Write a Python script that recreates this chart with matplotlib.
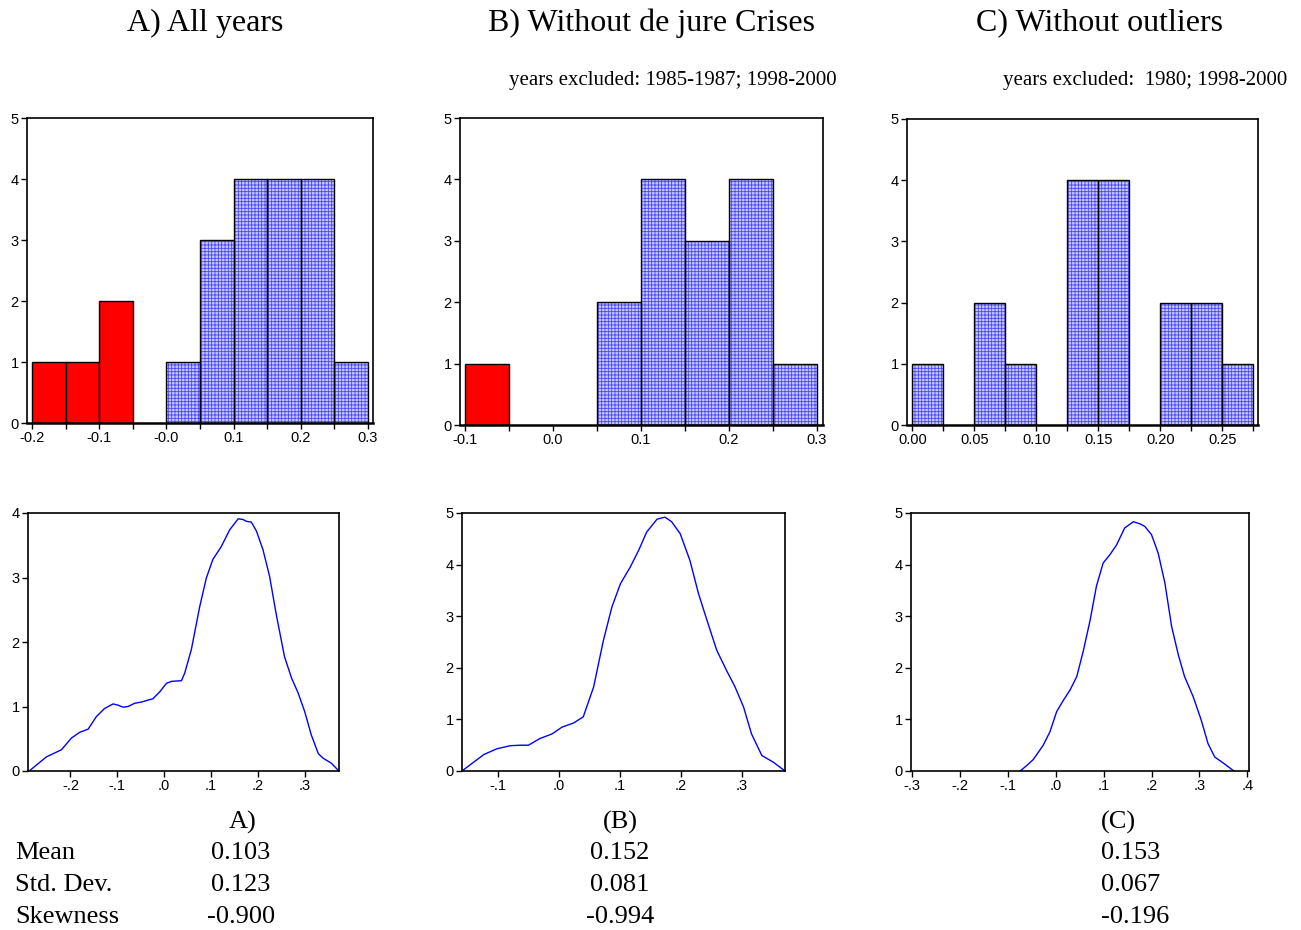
import numpy as np
import matplotlib
matplotlib.use('Agg')
import matplotlib.pyplot as plt
from matplotlib.ticker import FixedLocator

plt.rcParams['hatch.linewidth'] = 0.6
plt.rcParams['font.family'] = ['Liberation Sans', 'DejaVu Sans']

# ---------------- data ----------------
titles = ["A) All years", "B) Without de jure Crises", "C) Without outliers"]
subtitles = ["", "years excluded: 1985-1987; 1998-2000", "years excluded:  1980; 1998-2000"]

# histograms (bin left edges, width, counts, colour flag)
left_A = [-0.20, -0.15, -0.10, -0.05, 0.00, 0.05, 0.10, 0.15, 0.20, 0.25]
counts_A = [1, 1, 2, 0, 1, 3, 4, 4, 4, 1]
red_A = [1, 1, 1, 0, 0, 0, 0, 0, 0, 0]
width_A = 0.05

left_B = [-0.10, -0.05, 0.00, 0.05, 0.10, 0.15, 0.20, 0.25]
counts_B = [1, 0, 0, 2, 4, 3, 4, 1]
red_B = [1, 0, 0, 0, 0, 0, 0, 0]
width_B = 0.05

left_C = [0.000, 0.025, 0.050, 0.075, 0.100, 0.125, 0.150, 0.175, 0.200, 0.225, 0.250]
counts_C = [1, 0, 2, 1, 0, 4, 4, 0, 2, 2, 1]
red_C = [0] * 11
width_C = 0.025

# kernel density curves
kde_A_x = [-0.288, -0.251, -0.219, -0.198, -0.180, -0.162, -0.145, -0.127, -0.109, -0.098,
           -0.088, -0.077, -0.063, -0.048, -0.034, -0.024, -0.009, 0.005, 0.016, 0.037,
           0.044, 0.058, 0.076, 0.090, 0.104, 0.122, 0.140, 0.158, 0.168, 0.176,
           0.186, 0.197, 0.211, 0.225, 0.240, 0.257, 0.272, 0.286, 0.300, 0.314,
           0.329, 0.339, 0.357, 0.373]
kde_A_y = [0.00, 0.22, 0.33, 0.51, 0.60, 0.65, 0.84, 0.97, 1.04, 1.02,
           0.99, 1.00, 1.05, 1.07, 1.10, 1.12, 1.23, 1.36, 1.39, 1.40,
           1.52, 1.88, 2.55, 2.99, 3.28, 3.48, 3.74, 3.91, 3.90, 3.87,
           3.86, 3.72, 3.43, 3.02, 2.40, 1.77, 1.44, 1.21, 0.92, 0.56,
           0.27, 0.20, 0.12, 0.00]

kde_B_x = [-0.159, -0.140, -0.123, -0.102, -0.080, -0.063, -0.050, -0.031, -0.011, 0.005,
           0.024, 0.040, 0.057, 0.073, 0.087, 0.101, 0.117, 0.131, 0.144, 0.161,
           0.174, 0.185, 0.199, 0.215, 0.229, 0.243, 0.259, 0.275, 0.289, 0.303,
           0.316, 0.333, 0.352, 0.371]
kde_B_y = [0.00, 0.17, 0.32, 0.43, 0.49, 0.50, 0.50, 0.63, 0.72, 0.85,
           0.93, 1.05, 1.63, 2.53, 3.18, 3.63, 3.95, 4.28, 4.63, 4.88,
           4.92, 4.83, 4.60, 4.08, 3.44, 2.92, 2.34, 1.95, 1.63, 1.24,
           0.72, 0.30, 0.17, 0.00]

kde_C_x = [-0.074, -0.060, -0.047, -0.026, -0.012, 0.002, 0.016, 0.030, 0.044, 0.058,
           0.072, 0.085, 0.099, 0.113, 0.127, 0.144, 0.162, 0.176, 0.186, 0.200,
           0.214, 0.228, 0.242, 0.256, 0.269, 0.287, 0.304, 0.318, 0.332, 0.349,
           0.372]
kde_C_y = [0.00, 0.11, 0.22, 0.50, 0.76, 1.15, 1.37, 1.57, 1.83, 2.34,
           2.93, 3.58, 4.03, 4.19, 4.38, 4.71, 4.83, 4.79, 4.74, 4.58,
           4.22, 3.64, 2.80, 2.25, 1.83, 1.44, 0.98, 0.53, 0.27, 0.16,
           0.00]

# tick labels
hist_xticks_A = [-0.2, -0.1, 0.0, 0.1, 0.2, 0.3]
hist_xlabels_A = ["-0.2", "-0.1", "-0.0", "0.1", "0.2", "0.3"]
hist_xticks_B = [-0.1, 0.0, 0.1, 0.2, 0.3]
hist_xlabels_B = ["-0.1", "0.0", "0.1", "0.2", "0.3"]
hist_xticks_C = [0.00, 0.05, 0.10, 0.15, 0.20, 0.25]
hist_xlabels_C = ["0.00", "0.05", "0.10", "0.15", "0.20", "0.25"]

kde_xticks_A = [-0.2, -0.1, 0.0, 0.1, 0.2, 0.3]
kde_xlabels_A = ["-.2", "-.1", ".0", ".1", ".2", ".3"]
kde_xticks_B = [-0.1, 0.0, 0.1, 0.2, 0.3]
kde_xlabels_B = ["-.1", ".0", ".1", ".2", ".3"]
kde_xticks_C = [-0.3, -0.2, -0.1, 0.0, 0.1, 0.2, 0.3, 0.4]
kde_xlabels_C = ["-.3", "-.2", "-.1", ".0", ".1", ".2", ".3", ".4"]

stat_names = ["Mean", "Std. Dev.", "Skewness"]
stat_heads = ["A)", "(B)", "(C)"]
stats_A = ["0.103", "0.123", "-0.900"]
stats_B = ["0.152", "0.081", "-0.994"]
stats_C = ["0.153", "0.067", "-0.196"]

# ---------------- figure ----------------
W, H = 1301, 930
fig = plt.figure(figsize=(W / 100, H / 100), dpi=100)


def px_rect(l, t, r, b):
    return [l / W, 1 - b / H, (r - l) / W, (b - t) / H]


def style(ax, fs=10.5):
    for s in ax.spines.values():
        s.set_linewidth(1.2)
        s.set_color('black')
    ax.tick_params(axis='both', which='both', direction='out', length=4, width=1,
                   labelsize=fs, pad=2, colors='black')


def hist_panel(rect, left, counts, red, width, xlim, ticks, labels):
    ax = fig.add_axes(rect)
    for l, c, r in zip(left, counts, red):
        if c == 0:
            continue
        if r:
            ax.bar(l, c, width=width, align='edge', color='#ff0000',
                   edgecolor='black', linewidth=1, zorder=2)
        else:
            ax.bar(l, c, width=width, align='edge', color='#c8c8ff',
                   edgecolor='#4646ff', hatch='+++++', linewidth=0, zorder=2)
            ax.bar(l, c, width=width, align='edge', fill=False,
                   edgecolor='black', linewidth=1, zorder=3)
    ax.set_xlim(*xlim)
    ax.set_ylim(0, 5)
    ax.set_yticks([0, 1, 2, 3, 4, 5])
    ax.set_xticks(ticks)
    ax.set_xticklabels(labels)
    edges = list(left) + [left[-1] + width]
    ax.xaxis.set_minor_locator(FixedLocator(edges))
    style(ax)
    ax.spines['bottom'].set_linewidth(1.8)
    return ax


def kde_panel(rect, x, y, xlim, ylim, ticks, labels, yticks):
    ax = fig.add_axes(rect)
    ax.plot(x, y, color='#0000ff', linewidth=1.0)
    ax.set_xlim(*xlim)
    ax.set_ylim(*ylim)
    ax.set_xticks(ticks)
    ax.set_xticklabels(labels)
    ax.set_yticks(yticks)
    style(ax)
    return ax


hist_panel(px_rect(27, 118, 373, 423), left_A, counts_A, red_A, width_A,
           (-0.2074, 0.3074), hist_xticks_A, hist_xlabels_A)
hist_panel(px_rect(460, 118, 823, 425), left_B, counts_B, red_B, width_B,
           (-0.1053, 0.307), hist_xticks_B, hist_xlabels_B)
hist_panel(px_rect(907, 119, 1258, 425), left_C, counts_C, red_C, width_C,
           (-0.0043, 0.2787), hist_xticks_C, hist_xlabels_C)

kde_panel(px_rect(28, 513, 339, 771), kde_A_x, kde_A_y, (-0.2905, 0.3732), (0, 4),
          kde_xticks_A, kde_xlabels_A, [0, 1, 2, 3, 4])
kde_panel(px_rect(462, 513, 785, 771), kde_B_x, kde_B_y, (-0.159, 0.371), (0, 5),
          kde_xticks_B, kde_xlabels_B, [0, 1, 2, 3, 4, 5])
kde_panel(px_rect(911, 513, 1249, 771), kde_C_x, kde_C_y, (-0.302, 0.4035), (0, 5),
          kde_xticks_C, kde_xlabels_C, [0, 1, 2, 3, 4, 5])

serif = ['Liberation Serif', 'DejaVu Serif']


def ftext(x, y, s, size, ha='center'):
    fig.text(x / W, 1 - y / H, s, ha=ha, va='center', fontsize=size, family=serif)


# titles
for cx, t in zip([205, 651, 1100], titles):
    ftext(cx, 23, t, 23)
ftext(837, 80, subtitles[1], 15, ha='right')
ftext(1287, 80, subtitles[2], 15, ha='right')

# statistics table
ftext(243, 822, stat_heads[0], 19)
ftext(620, 822, stat_heads[1], 19)
ftext(1101, 822, stat_heads[2], 19, ha='left')
for i, yy in enumerate([853, 885, 917]):
    ftext(15, yy, stat_names[i], 19, ha='left')
    ftext(241, yy, stats_A[i], 19)
    ftext(620, yy, stats_B[i], 19)
    ftext(1101, yy, stats_C[i], 19, ha='left')

fig.savefig('out.png', dpi=100)
